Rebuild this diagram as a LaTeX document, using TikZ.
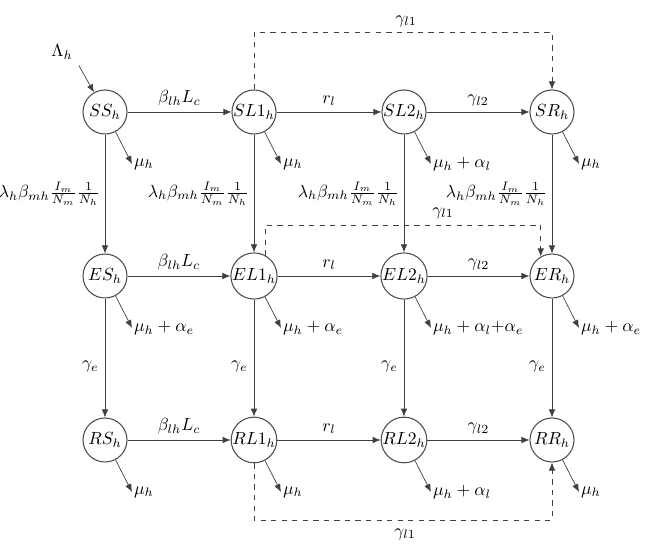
\documentclass[tikz,border=0pt]{standalone}
\usetikzlibrary{arrows.meta}
\begin{document}
\begin{tikzpicture}
        [%%%%%%%%%%%%%%%%%%%%%%%%%%%%%%
        x=0.02cm,y=-0.02cm,
        comp/.style={circle,draw=black!70,semithick,minimum size=0.88cm,inner sep=0pt},
        flow/.style={-{Latex[length=1.6mm,width=1.3mm]},draw=black!75},
        back/.style={flow,dashed},
        ]%%%%%%%%%%%%%%%%%%%%%%%%%%%%%%
        \useasboundingbox (0,0) rectangle (667,553);

        \foreach \n/\x/\y/\t in {SS/105/112/SS_h, SL1/254/112/SL1_h, SL2/404/112/SL2_h, SR/552/112/SR_h,
                                 ES/105/276/ES_h, EL1/254/276/EL1_h, EL2/404/276/EL2_h, ER/552/276/ER_h,
                                 RS/105/440/RS_h, RL1/254/440/RL1_h, RL2/404/440/RL2_h, RR/552/440/RR_h}
          \node[comp] (\n) at (\x,\y) {$\t$};

        \node (Lam) at (62,52) {$\Lambda_h$};
        \draw[flow] (Lam.south east) -- (SS);

        \foreach \a/\b/\t in {SS/SL1/\beta_{lh}L_c, SL1/SL2/r_l, SL2/SR/\gamma_{l2},
                              ES/EL1/\beta_{lh}L_c, EL1/EL2/r_l, EL2/ER/\gamma_{l2},
                              RS/RL1/\beta_{lh}L_c, RL1/RL2/r_l, RL2/RR/\gamma_{l2}}
          \draw[flow] (\a) -- node[above] (h\a) {$\t$} (\b);

        \foreach \a/\b in {SS/ES, SL1/EL1, SL2/EL2, SR/ER}
          \draw[flow] (\a) -- node[left,inner sep=2.5pt] (v\a) {$\lambda_h\beta_{mh}\frac{I_m}{N_m}\frac{1}{N_h}$} (\b);
        \foreach \a/\b in {ES/RS, EL1/RL1, EL2/RL2, ER/RR}
          \draw[flow] (\a) -- node[left,pos=0.57] (v\a) {$\gamma_e$} (\b);

        \foreach \n/\t in {SS/\mu_h, SL1/\mu_h, SL2/\mu_h+\alpha_l, SR/\mu_h,
                           ES/\mu_h+\alpha_e, EL1/\mu_h+\alpha_e, EL2/\mu_h+\alpha_l{+}\alpha_e, ER/\mu_h+\alpha_e,
                           RS/\mu_h, RL1/\mu_h, RL2/\mu_h+\alpha_l, RR/\mu_h}{
          \path (\n) ++(27,52) coordinate (d\n);
          \draw[flow] (\n.-62) -- (d\n) node[right,inner sep=1pt] (t\n) {$\t$};
        }

        % recovery from the larval stage
        \draw[back] (SL1.north) -- (SL1.north |- 0,32) -| (SR.north);
        \node (g1) at (406,21) {$\gamma_{l1}$};
        \draw[back] (EL1.60) -- (EL1.60 |- 0,225) -| (ER.120);
        \node (g2) at (443,213) {$\gamma_{l1}$};
        \draw[back] (RL1.south) -- (RL1.south |- 0,520) -| (RR.south);
        \node (g3) at (405,534) {$\gamma_{l1}$};

      \end{tikzpicture}
\end{document}
